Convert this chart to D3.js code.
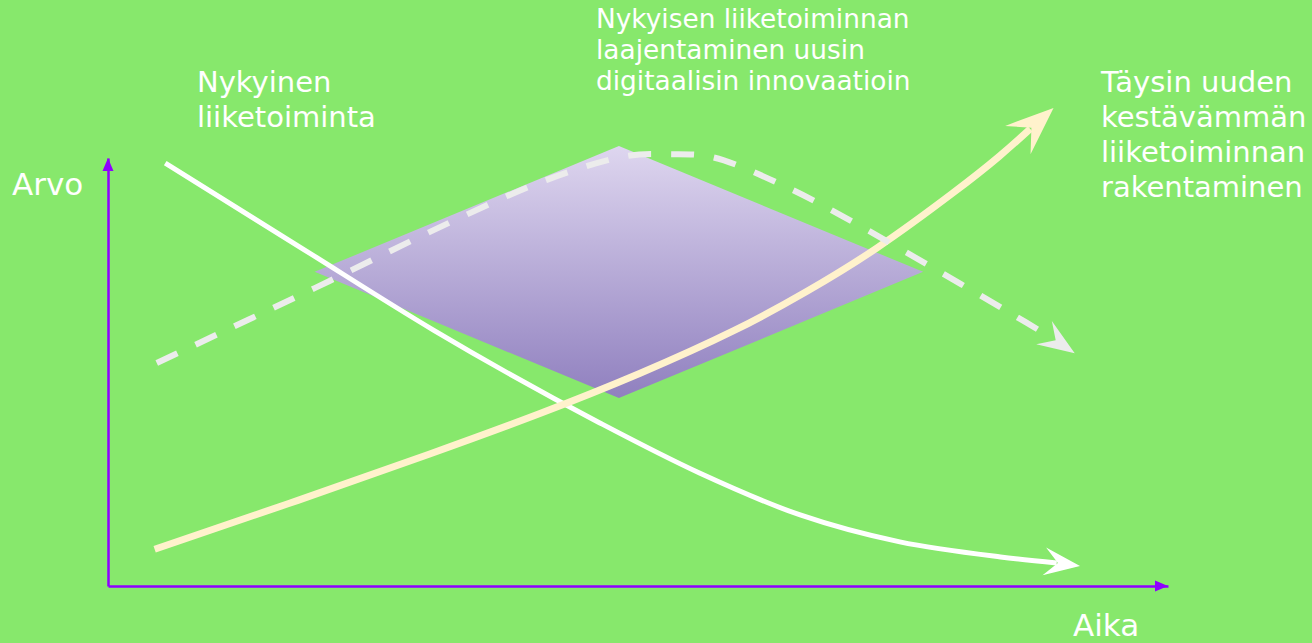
<!DOCTYPE html>
<html>
<head>
<meta charset="utf-8">
<script src="https://cdn.jsdelivr.net/npm/d3@7"></script>
<style>
  body { margin: 0; background: #87e86c; }
  text { font-family: "DejaVu Sans", Verdana, sans-serif; fill: #ffffff; }
</style>
</head>
<body>
<div id="chart"></div>
<script>
const width = 1312;
const height = 643;

// x = Aika (time), y = Arvo (value), both 0..100 concept units
// current business: falling curve (last point = arrow tip)
const currentX = [5.4, 18.1, 30.7, 46.4, 55.8, 65.3, 74.7, 84.2, 89.5, 91.7];
const currentY = [98.8, 79.2, 59.8, 38.1, 26.4, 16.6, 10.3, 6.8, 5.4, 4.7];

// expansion with digital innovations: dashed rise and fall
const digitalX = [4.6, 19.5, 32.3, 41.4, 49.0, 53.0, 57.0, 64.2, 71.1, 78.2, 85.1, 89.1, 91.2];
const digitalY = [52.1, 69.6, 85.0, 94.9, 100.5, 100.9, 100.2, 93.0, 83.9, 73.8, 63.8, 57.9, 54.4];

// new sustainable business: rising curve
const newX = [4.4, 18.1, 30.7, 40.8, 50.2, 59.6, 65.9, 72.2, 80.4, 84.2, 87.0, 89.2];
const newY = [8.6, 20.1, 31.1, 40.2, 49.5, 60.0, 68.7, 78.0, 93.0, 100.5, 106.8, 111.7];

// diamond (left, top, right, bottom)
const diamondX = [19.5, 48.2, 76.9, 48.2];
const diamondY = [73.4, 102.8, 73.4, 43.9];

const labels = {
  yAxis: "Arvo",
  xAxis: "Aika",
  current: ["Nykyinen", "liiketoiminta"],
  digital: ["Nykyisen liiketoiminnan", "laajentaminen uusin", "digitaalisin innovaatioin"],
  sustainable: ["Täysin uuden", "kestävämmän", "liiketoiminnan", "rakentaminen"]
};

const svg = d3.select("#chart")
    .append("svg")
    .attr("width", width)
    .attr("height", height)
    .attr("viewBox", [0, 0, width, height]);

svg.append("rect")
    .attr("width", width)
    .attr("height", height)
    .attr("fill", "#87e86c");

const x = d3.scaleLinear().domain([0, 100]).range([108, 1168]);
const y = d3.scaleLinear().domain([0, 100]).range([586, 158]);

const defs = svg.append("defs");
const grad = defs.append("linearGradient")
    .attr("id", "diamondGrad")
    .attr("x1", 0).attr("y1", 0)
    .attr("x2", 0).attr("y2", 1);
grad.append("stop").attr("offset", "0%").attr("stop-color", "#ded6ef");
grad.append("stop").attr("offset", "100%").attr("stop-color", "#9080bf");

// arrow head polygon from previous point towards tip
function arrowHead(prev, tip, len, half, notch) {
    const dx = tip[0] - prev[0], dy = tip[1] - prev[1];
    const d = Math.sqrt(dx * dx + dy * dy);
    const ux = dx / d, uy = dy / d;
    const px = -uy, py = ux;
    const bx = tip[0] - ux * len, by = tip[1] - uy * len;
    const nx = tip[0] - ux * len * notch, ny = tip[1] - uy * len * notch;
    return [tip, [bx + px * half, by + py * half], [nx, ny], [bx - px * half, by - py * half]];
}

// diamond
const diamondPts = diamondX.map((d, i) => [x(d), y(diamondY[i])]);
svg.append("polygon")
    .attr("points", diamondPts.map(p => p.join(",")).join(" "))
    .attr("fill", "url(#diamondGrad)");

// axes
const xAxis = svg.append("g")
    .attr("transform", "translate(0," + y(0) + ")")
    .call(d3.axisBottom(x).tickValues([]).tickSizeOuter(0));
const yAxis = svg.append("g")
    .attr("transform", "translate(" + x(0) + ",0)")
    .call(d3.axisLeft(y).tickValues([]).tickSizeOuter(0));
[xAxis, yAxis].forEach(a => a.select(".domain")
    .attr("stroke", "#8f00ff")
    .attr("stroke-width", 2.5));

const axisArrows = [
    arrowHead([x(0), y(0)], [x(100), y(0)], 13, 5.5, 1),
    arrowHead([x(0), y(0)], [x(0), y(100)], 13, 5.5, 1)
];
svg.selectAll(".axisArrow")
    .data(axisArrows)
    .enter()
    .append("polygon")
    .attr("class", "axisArrow")
    .attr("points", d => d.map(p => p.join(",")).join(" "))
    .attr("fill", "#8f00ff");

const lineOf = curve => d3.line()
    .x(d => x(d[0]))
    .y(d => y(d[1]))
    .curve(curve);

const series = [
    {xs: currentX, ys: currentY, color: "#ffffff", width: 5, dash: null, len: 36, half: 14, line: lineOf(d3.curveMonotoneX)},
    {xs: newX, ys: newY, color: "#fff2cc", width: 7, dash: null, len: 48, half: 19, line: lineOf(d3.curveBasis)},
    {xs: digitalX, ys: digitalY, color: "#ececec", width: 6, dash: "23 20", len: 37, half: 14, line: lineOf(d3.curveCatmullRom.alpha(0.5))}
];

series.forEach(s => {
    const pts = s.xs.map((d, i) => [d, s.ys[i]]);
    const body = pts.slice(0, -1);
    svg.append("path")
        .attr("d", s.line(body))
        .attr("fill", "none")
        .attr("stroke", s.color)
        .attr("stroke-width", s.width)
        .attr("stroke-dasharray", s.dash);
    const prev = pts[pts.length - 2], tip = pts[pts.length - 1];
    const head = arrowHead([x(prev[0]), y(prev[1])], [x(tip[0]), y(tip[1])], s.len, s.half, 0.62);
    svg.append("polygon")
        .attr("points", head.map(p => p.join(",")).join(" "))
        .attr("fill", s.color);
});

// texts
function block(lines, tx, ty, size, lh) {
    const t = svg.append("text")
        .attr("x", tx)
        .attr("y", ty)
        .attr("font-size", size + "px");
    lines.forEach((l, i) => {
        t.append("tspan")
            .attr("x", tx)
            .attr("y", ty + i * lh)
            .text(l);
    });
}

block([labels.yAxis], 12, 195, 31, 0);
block([labels.xAxis], 1073, 636, 31, 0);
block(labels.current, 197, 92, 29, 35);
block(labels.digital, 596, 28, 26.4, 31);
block(labels.sustainable, 1101, 92, 29, 35);
</script>
</body>
</html>
